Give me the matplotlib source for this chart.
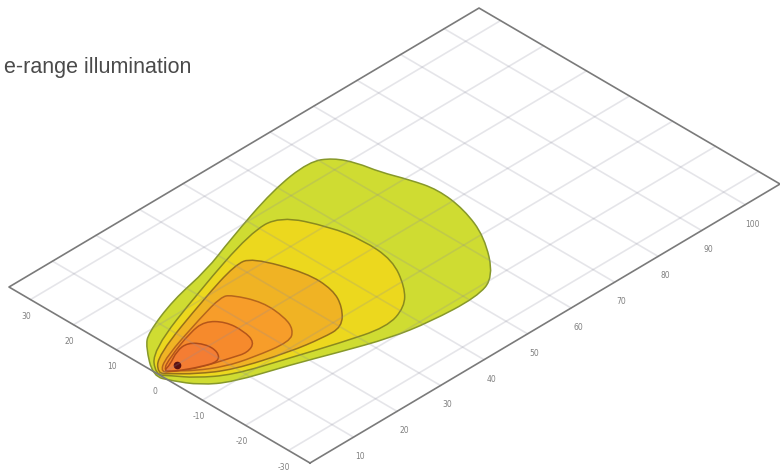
import numpy as np
import matplotlib
matplotlib.use('Agg')
import matplotlib.pyplot as plt
from matplotlib.patches import PathPatch
from matplotlib.path import Path
from matplotlib.transforms import Affine2D

# distance along the beam / lateral offset, one pair of lists per contour
lime_x = [-1, 3.9, 6.9, 16.2, 25.9, 34.4, 49, 58.7, 62.1, 63.9, 64.7, 66.6, 67.9, 67, 64, 57.2, 51.4, 41.2, 33.5, 25.1, 16.8, 7, 2.7, 0.3]
lime_y = [0.5, 7.1, 9.6, 13.2, 15.2, 18.4, 23.2, 24.6, 22.5, 18.7, 14.3, 9.2, 4, -3, -10.8, -19.8, -21.8, -21.2, -19.7, -16.6, -13.3, -10, -6.7, -2.6]
yellow_x = [-0.5, 4.1, 21.2, 38, 44.7, 48.3, 49.5, 49, 45.1, 41.2, 35.3, 26.8, 18.2, 8.4, 3.5, 1.2]
yellow_y = [0.5, 5.7, 12, 17.4, 17.3, 9.3, 2.8, -4.6, -11.4, -15.3, -17.2, -14.8, -11.9, -8.6, -4.7, -1.5]
amber_x = [0, 3.7, 20.2, 30.1, 33.4, 36.7, 36.4, 34.1, 30.2, 25.9, 19.4, 9.4, 4.3, 1.6]
amber_y = [0.5, 4.1, 9.9, 12.9, 12.3, 2.9, -3.5, -8, -11.9, -11.8, -10.7, -7.6, -4, -1.1]
orange_x = [0.5, 4, 15.9, 22.2, 23.8, 26, 25.5, 24.1, 21.4, 14.1, 9.1, 4.9, 2.6]
orange_y = [0.3, 2.7, 6.5, 8.2, 7.4, 2.3, -3.4, -6.7, -8.7, -7.5, -6, -3.3, -1]
deep_x = [1, 4.8, 11.8, 15.6, 17.9, 18.2, 17.2, 14.4, 11.8, 6.1, 3.2]
deep_y = [0.3, 2.3, 4.8, 5.3, 2.8, -1.2, -4.7, -5.9, -5.1, -3.3, -1.5]
inner_x = [1.3, 3.2, 6.6, 9.5, 11.3, 11.2, 9.4, 6.3, 3.2, 2.1]
inner_y = [0.3, 0.8, 2.7, 3.1, 0.7, -2.3, -4.3, -3.2, -1.5, -0.6]
source_x = [4]
source_y = [0]

x_ticks = [10, 20, 30, 40, 50, 60, 70, 80, 90, 100]
y_ticks = [30, 20, 10, 0, -10, -20, -30]
x_max = 108
y_max = 35


def smooth_outline(xs, ys):
    # read points become quadratic control points, closed curve through the midpoints
    pts = np.column_stack([xs, ys])
    mids = (pts + np.roll(pts, -1, axis=0)) / 2
    verts = [mids[-1]]
    codes = [Path.MOVETO]
    for p, m in zip(pts, mids):
        verts += [p, m]
        codes += [Path.CURVE3, Path.CURVE3]
    return Path(verts, codes)


fig = plt.figure(figsize=(7.8, 4.72), dpi=100)
ax = fig.add_axes([0, 0, 1, 1])
ax.set_xlim(0, 780)
ax.set_ylim(472, 0)
ax.axis('off')

# tilted floor plane: data coords -> picture coords
plane = Affine2D(np.array([[4.352, -4.3, 159.5],
                           [-2.583, -2.514, 375.0],
                           [0, 0, 1]])) + ax.transData

contours = [(lime_x, lime_y, '#cfdc32', '#87982a'),
            (yellow_x, yellow_y, '#ecd81e', '#8a8a1e'),
            (amber_x, amber_y, '#f0b324', '#96701a'),
            (orange_x, orange_y, '#f79d2a', '#b5661c'),
            (deep_x, deep_y, '#f68a2c', '#b5561a'),
            (inner_x, inner_y, '#f47d33', '#b04c18')]
for xs, ys, fill, edge in contours:
    ax.add_patch(PathPatch(smooth_outline(xs, ys), facecolor=fill, edgecolor=edge,
                           linewidth=1.1, transform=plane))
ax.plot(source_x, source_y, 'o', color='#5a1010', markersize=4.5, transform=plane)

grid_color = (0.55, 0.55, 0.62, 0.22)
for t in x_ticks:
    ax.plot([t, t], [-y_max, y_max], color=grid_color, linewidth=1.2, transform=plane)
    ax.annotate(str(t), (t, -y_max), xycoords=plane, xytext=(5, -14), textcoords='offset points',
                ha='center', va='center', fontsize=5.5, color='#808080')
for t in y_ticks:
    ax.plot([0, x_max], [t, t], color=grid_color, linewidth=1.2, transform=plane)
    ax.annotate(str(t), (0, t), xycoords=plane, xytext=(-3, -12), textcoords='offset points',
                ha='center', va='center', fontsize=5.5, color='#808080')

ax.plot([0, x_max, x_max, 0, 0], [-y_max, -y_max, y_max, y_max, -y_max], color='#7a7a7a',
        linewidth=1.2, transform=plane)

ax.text(191, 72.5, 'e-range illumination', ha='right', va='baseline', fontsize=15.5,
        family='Liberation Sans', color='#4a4a4a')

fig.savefig('out.png', dpi=100)
